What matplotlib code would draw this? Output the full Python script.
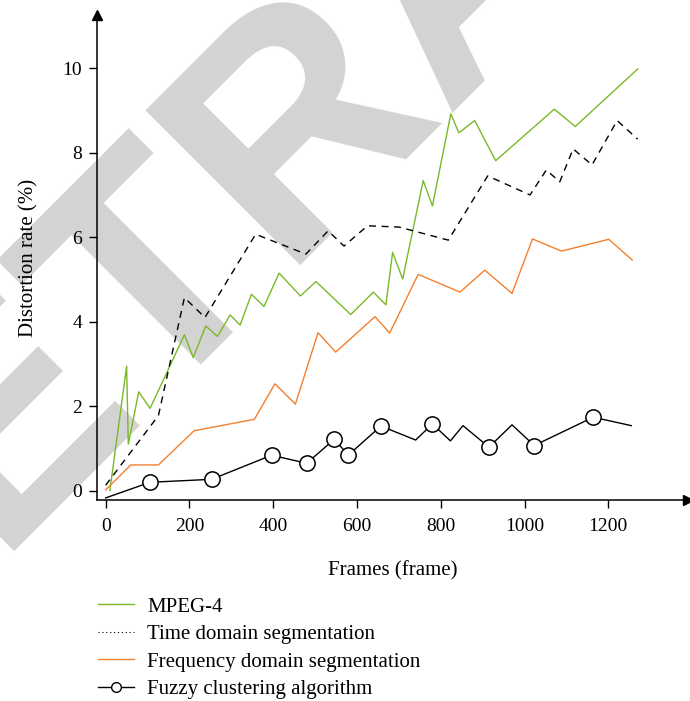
import matplotlib
matplotlib.use("Agg")
import matplotlib.pyplot as plt
from matplotlib.lines import Line2D

# MPEG-4
mpeg_x = [10, 50, 54, 79, 106, 188, 209, 239, 267, 297, 321, 348, 378, 414, 465, 502,
          585, 639, 669, 685, 709, 758, 780, 824, 843, 881, 931, 1071, 1121, 1270]
mpeg_y = [0.0, 2.95, 1.10, 2.34, 1.95, 3.69, 3.15, 3.90, 3.65, 4.16, 3.92, 4.65, 4.36, 5.15,
          4.61, 4.95, 4.17, 4.70, 4.40, 5.64, 5.01, 7.34, 6.74, 8.92, 8.47, 8.76, 7.81,
          9.03, 8.62, 9.98]

# time domain segmentation
time_x = [0, 126, 188, 237, 358, 478, 531, 569, 625, 700, 818, 912, 1013, 1052, 1084,
          1116, 1161, 1221, 1270]
time_y = [0.13, 1.78, 4.57, 4.10, 6.07, 5.60, 6.15, 5.79, 6.27, 6.24, 5.93, 7.45, 7.00,
          7.59, 7.31, 8.09, 7.71, 8.76, 8.32]

# frequency domain segmentation
freq_x = [0, 60, 126, 211, 355, 404, 453, 507, 549, 643, 678, 746, 846, 905, 970, 1019,
          1088, 1201, 1257]
freq_y = [0.02, 0.61, 0.61, 1.42, 1.69, 2.53, 2.05, 3.74, 3.28, 4.12, 3.73, 5.12, 4.70,
          5.22, 4.67, 5.96, 5.67, 5.95, 5.46]

# fuzzy clustering
fuzzy_x = [0, 106, 253, 396, 480, 546, 579, 657, 740, 780, 823, 853, 915, 970, 1023,
           1164, 1255]
fuzzy_y = [-0.17, 0.20, 0.27, 0.84, 0.65, 1.22, 0.84, 1.53, 1.20, 1.58, 1.18, 1.54, 1.03,
           1.56, 1.07, 1.74, 1.54]
fuzzy_marks = [1, 2, 3, 4, 5, 6, 7, 9, 12, 14, 15]

labels = ["MPEG-4", "Time domain segmentation", "Frequency domain segmentation",
          "Fuzzy clustering algorithm"]

green = "#7ab829"
orange = "#f2802e"
serif = ["Liberation Serif", "DejaVu Serif"]

fig = plt.figure(figsize=(6.9, 7.01), dpi=100)

# watermark behind everything
fig.text(-0.243, -0.0153, "RETRACTED", rotation=45, fontsize=228, fontweight="bold",
         family="Liberation Sans", color="#d3d3d3", ha="left", va="baseline",
         rotation_mode="anchor", zorder=-5)

ax = fig.add_axes([0.141, 0.2867, 0.856, 0.692])
ax.patch.set_alpha(0)

ax.plot(mpeg_x, mpeg_y, color=green, lw=1.0)
ax.plot(time_x, time_y, color="black", lw=1.0, ls=(0, (5, 4)))
ax.plot(freq_x, freq_y, color=orange, lw=1.0)
ax.plot(fuzzy_x, fuzzy_y, color="black", lw=1.0, marker="o", ms=11, mfc="white",
        mec="black", mew=1.1, markevery=fuzzy_marks)

ax.set_xlim(-20, 1390)
ax.set_ylim(-0.22, 11.26)
ax.set_xticks([0, 200, 400, 600, 800, 1000, 1200])
ax.set_yticks([0, 2, 4, 6, 8, 10])
for s in ["top", "right"]:
    ax.spines[s].set_visible(False)
for s in ["left", "bottom"]:
    ax.spines[s].set_linewidth(1.1)
ax.tick_params(direction="out", length=6, width=1.0, labelsize=14, pad=5)
ax.tick_params(axis="x", pad=7)
for t in ax.get_xticklabels() + ax.get_yticklabels():
    t.set_family(serif)

# arrow heads
ax.plot(1, 0, ">k", ms=7, transform=ax.transAxes, clip_on=False)
ax.plot(0, 1, "^k", ms=7, transform=ax.transAxes, clip_on=False)

ax.set_xlabel("Frames (frame)", fontsize=15, family=serif, labelpad=19)
ax.set_ylabel("Distortion rate (%)", fontsize=15, family=serif, labelpad=17)

handles = [
    Line2D([], [], color=green, lw=1.0),
    Line2D([], [], color="black", lw=0.8, ls=(0, (1, 2.5))),
    Line2D([], [], color=orange, lw=1.0),
    Line2D([], [], color="black", lw=1.0, marker="o", ms=7, mfc="white", mec="black"),
]
fig.legend(handles, labels, loc="upper left", bbox_to_anchor=(0.13, 0.16),
           frameon=False, prop={"family": serif, "size": 15}, handlelength=1.73,
           handletextpad=0.63, labelspacing=0.375, borderaxespad=0)

fig.savefig("out.png", dpi=100)
